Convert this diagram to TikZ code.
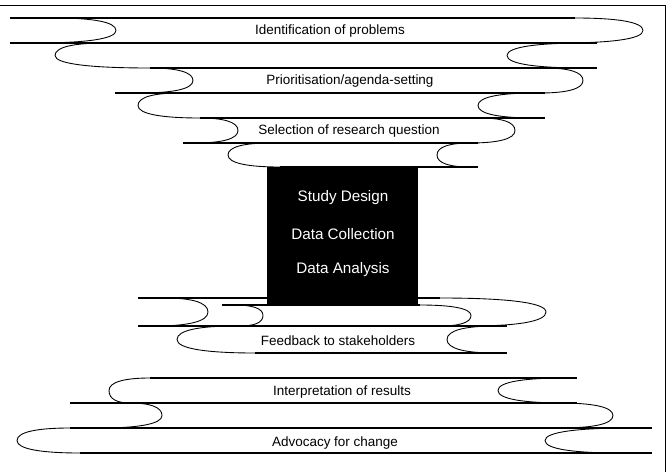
\documentclass[tikz,border=0pt]{standalone}
\usepackage{fontspec}
\setmainfont{Liberation Sans}
\begin{document}
\begin{tikzpicture}[x=0.03cm, y=-0.03cm,
    band/.style={line width=1.1pt},
    curl/.style={line width=0.75pt},
    bandtext/.style={font=\fontsize{11.5}{13}\selectfont},
    boxtext/.style={font=\fontsize{13}{15}\selectfont, text=white}
  ]
  \useasboundingbox (0,0) rectangle (667,472);
  \draw[line width=0.8pt] (0,5) -- (665,5) -- (665,472);
  % straight edges of the ribbon
  \foreach \lev/\xa/\xb in {18/10/575, 43/10/597, 68/150/597, 93/115/545,
      118/200/545, 143/183/478, 167/280/478, 298/138/440, 305/222/420,
      326/138/507, 353/255/507, 378/150/577, 403/70/577, 428/70/652, 453/80/652} {
    \draw[band] (\xa,\lev) -- (\xb,\lev);
  }
  % folds: top start / bottom end / tip / top y / bottom y
  \foreach \xs/\xe/\xt/\ya/\yb in {55/35/116/18/43, 575/560/643/18/43,
      585/585/507/43/68, 105/150/55/43/68, 150/140/193/68/93, 545/540/583/68/93,
      535/535/478/93/118, 180/200/138/93/118, 200/195/238/118/143, 480/470/515/118/143,
      470/470/437/143/167, 270/280/228/143/167,
      165/155/208/298/326, 440/470/546/298/326, 235/240/263/305/326, 420/440/471/305/326,
      235/255/177/326/353, 495/495/447/326/353,
      150/130/109/378/403, 565/565/498/378/403, 560/560/613/403/428, 130/100/162/403/428,
      70/80/17/428/453, 630/620/545/428/453} {
    \draw[curl] (\xs,\ya) .. controls ({\xs+0.6*(\xt-\xs)},\ya) and (\xt,{\ya+0.15*(\yb-\ya)})
      .. (\xt,{(\ya+\yb)/2}) .. controls (\xt,{\yb-0.15*(\yb-\ya)}) and ({\xe+0.6*(\xt-\xe)},\yb)
      .. (\xe,\yb);
  }
  \node[fill=black, minimum width=4.53cm, minimum height=4.11cm, inner sep=0pt] (core) at (342.5,235.5) {};
  \node[bandtext] (identify) at (330,31) {Identification of problems};
  \node[bandtext] (priority) at (350,81) {Prioritisation/agenda-setting};
  \node[bandtext] (question) at (349,131) {Selection of research question};
  \node[boxtext] (design) at (343,198) {Study Design};
  \node[boxtext] (collect) at (343,234) {Data Collection};
  \node[boxtext] (analyse) at (343,270) {Data Analysis};
  \node[bandtext] (feedback) at (338,341) {Feedback to stakeholders};
  \node[bandtext] (interpret) at (342,392) {Interpretation of results};
  \node[bandtext] (advocacy) at (335,443) {Advocacy for change};
\end{tikzpicture}
\end{document}
